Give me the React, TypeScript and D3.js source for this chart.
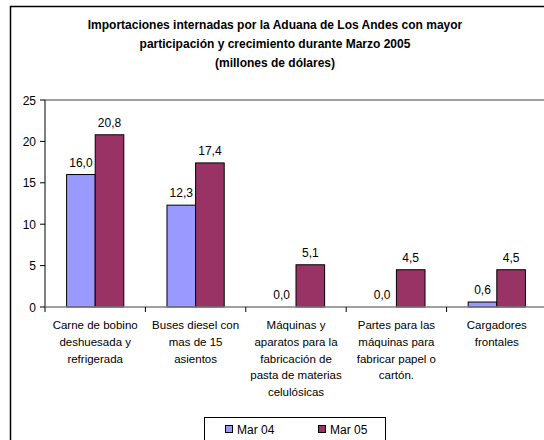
import React from 'react';
import * as d3 from 'd3';

const categories = [
  ['Carne de bobino', 'deshuesada y', 'refrigerada'],
  ['Buses diesel con', 'mas de 15', 'asientos'],
  ['Máquinas y', 'aparatos para la', 'fabricación de', 'pasta de materias', 'celulósicas'],
  ['Partes para las', 'máquinas para', 'fabricar  papel o', 'cartón.'],
  ['Cargadores', 'frontales'],
];
const series = ['Mar 04', 'Mar 05'];
const mar04 = [16.0, 12.3, 0.0, 0.0, 0.6];
const mar05 = [20.8, 17.4, 5.1, 4.5, 4.5];
const yTicks = [0, 5, 10, 15, 20, 25];
const titleLines = [
  'Importaciones internadas por la Aduana de  Los Andes con mayor',
  'participación y crecimiento durante Marzo 2005',
  '(millones de dólares)',
];

const colors = ['#9999FF', '#993366'];
const font = '"Liberation Sans", Arial, sans-serif';
const fmt = (v: number) => v.toFixed(1).replace('.', ',');

const App = () => {
  const width = 544;
  const height = 440;
  const keys = categories.map((c, i) => String(i));
  const x = d3.scaleBand<string>().domain(keys).range([45, 547]).padding(0);
  const bw = x.bandwidth();
  const xs = d3.scaleBand<string>().domain(series).range([bw * 0.215, bw * 0.785]);
  const y = d3.scaleLinear().domain([0, 25]).range([307, 100]);
  const values = [mar04, mar05];

  return (
    <svg
      width={width}
      height={height}
      style={{ position: 'fixed', left: 0, top: 0, background: '#fff', whiteSpace: 'pre' }}
      fontFamily={font}
    >
      <rect x={10.5} y={6.5} width={560} height={460} fill="#fff" stroke="#000" strokeWidth={1.5} />

      {titleLines.map((t, i) => (
        <text key={i} x={275} y={29 + i * 19} textAnchor="middle" fontSize={12} fontWeight="bold" fill="#000">
          {t}
        </text>
      ))}

      {/* top gridline */}
      <line x1={45} x2={547} y1={y(25)} y2={y(25)} stroke="#a0a0a0" strokeWidth={2} />

      {/* bars */}
      {series.map((s, si) =>
        values[si].map((v, ci) => (
          <rect
            key={s + ci}
            x={(x(String(ci)) as number) + (xs(s) as number)}
            y={y(v)}
            width={xs.bandwidth()}
            height={y(0) - y(v)}
            fill={colors[si]}
            stroke="#000"
            strokeWidth={1}
          />
        ))
      )}

      {/* value labels */}
      {series.map((s, si) =>
        values[si].map((v, ci) => (
          <text
            key={'l' + s + ci}
            x={(x(String(ci)) as number) + (xs(s) as number) + xs.bandwidth() / 2}
            y={y(v) - 8}
            textAnchor="middle"
            fontSize={12}
            fill="#000"
          >
            {fmt(v)}
          </text>
        ))
      )}

      {/* y axis */}
      <line x1={45} x2={45} y1={y(25)} y2={y(0)} stroke="#000" strokeWidth={1} />
      {yTicks.map((t) => (
        <g key={t}>
          <line x1={40} x2={45} y1={y(t)} y2={y(t)} stroke="#000" />
          <text x={36} y={y(t) + 4.5} textAnchor="end" fontSize={12} fill="#000">
            {t}
          </text>
        </g>
      ))}

      {/* x axis */}
      <line x1={45} x2={547} y1={y(0)} y2={y(0)} stroke="#808080" strokeWidth={1.5} />
      {keys.map((k) => (
        <line key={k} x1={x(k)} x2={x(k)} y1={y(0)} y2={y(0) + 5} stroke="#000" />
      ))}
      {categories.map((lines, ci) => (
        <text key={'c' + ci} textAnchor="middle" fontSize={11.5} fill="#000">
          {lines.map((ln, li) => (
            <tspan key={li} x={(x(String(ci)) as number) + bw / 2} y={329 + li * 16.8}>
              {ln}
            </tspan>
          ))}
        </text>
      ))}

      {/* legend */}
      <rect x={204.5} y={417.5} width={181} height={40} fill="#fff" stroke="#000" strokeWidth={1} />
      {series.map((s, i) => (
        <g key={s} transform={`translate(${225 + i * 93},0)`}>
          <rect x={0.5} y={425.5} width={7} height={7} fill={colors[i]} stroke="#000" strokeWidth={1} />
          <text x={12} y={433.5} fontSize={12} fill="#000">
            {s}
          </text>
        </g>
      ))}
    </svg>
  );
};

export default App;
